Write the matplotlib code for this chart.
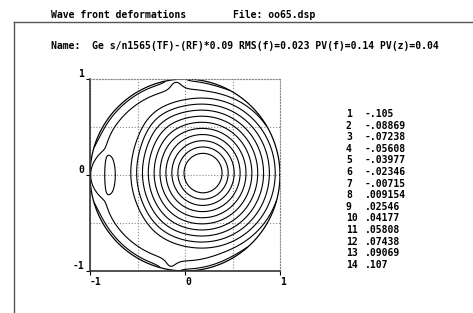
import numpy as np
import matplotlib
matplotlib.use("Agg")
import matplotlib.pyplot as plt
from matplotlib.lines import Line2D

# ---- data ----
title_left = "Wave front deformations"
title_right = "File: oo65.dsp"
name_line = "Name:  Ge s/n1565(TF)-(RF)*0.09 RMS(f)=0.023 PV(f)=0.14 PV(z)=0.04"
level_ids = [1, 2, 3, 4, 5, 6, 7, 8, 9, 10, 11, 12, 13, 14]
level_labels = ["-.105", "-.08869", "-.07238", "-.05608", "-.03977", "-.02346",
                "-.00715", ".009154", ".02546", ".04177", ".05808", ".07438",
                ".09069", ".107"]
levels = [-0.105, -0.08869, -0.07238, -0.05608, -0.03977, -0.02346,
          -0.00715, 0.009154, 0.02546, 0.04177, 0.05808, 0.07438,
          0.09069, 0.107]
x_ticks = [-1, 0, 1]
x_tick_labels = ["-1", "0", "1"]
y_ticks = [-1, 0, 1]
y_tick_labels = ["-1", "0", "1"]
grid_ticks = [-0.5, 0.5]

# surface model parameters
peak_x, peak_y = 0.19, 0.02
peak_value = 0.1646
cone_slope = 0.2676
peak_round = 0.08
y_squeeze = 0.95
# broad swellings of the main dome (x, y, height, sx, sy)
swell_x = [-0.35, -0.30]
swell_y = [0.65, -0.62]
swell_h = [0.011, 0.006]
swell_s = [0.22, 0.22]
rim_value = -0.050
rim_start = 0.80
rim_fall = 0.70
rim_soft = 0.003
# local features on the rim plateau (x, y, height, sx, sy)
feat_x = [-1.0, -0.8, -0.10, -0.16]
feat_y = [0.0, 0.0, 1.0, -1.0]
feat_h = [0.020, -0.016, 0.016, 0.016]
feat_sx = [0.10, 0.05, 0.07, 0.07]
feat_sy = [0.18, 0.16, 0.07, 0.07]

W, H = 473, 313
fig = plt.figure(figsize=(W / 100, H / 100), dpi=100)
FONT = dict(family="DejaVu Sans Mono", fontsize=7, fontweight="bold", color="black")

def fx(px):
    return px / W

def fy(py):
    return 1 - py / H

fig.text(fx(51), fy(15), title_left, va="center", ha="left", **FONT)
fig.text(fx(233), fy(15), title_right, va="center", ha="left", **FONT)
fig.text(fx(51), fy(46), name_line, va="center", ha="left", **FONT)
fig.add_artist(Line2D([fx(14), 1], [fy(22), fy(22)], color="#555555", lw=1))
fig.add_artist(Line2D([fx(14), fx(14)], [fy(22), 0], color="#555555", lw=1))

for i, (n, lab) in enumerate(zip(level_ids, level_labels)):
    yy = 114 + i * 11.6
    fig.text(fx(346), fy(yy), str(n), va="center", ha="left", **FONT)
    fig.text(fx(365), fy(yy), lab, va="center", ha="left", **FONT)

ax = fig.add_axes([fx(90), fy(271), (280 - 90) / W, (271 - 79) / H])
ax.set_xlim(-1, 1)
ax.set_ylim(-1, 1)

def gauss(X, Y, cx, cy, sx, sy):
    return np.exp(-((X - cx) ** 2 / (2 * sx ** 2) + (Y - cy) ** 2 / (2 * sy ** 2)))

g = np.linspace(-1, 1, 501)
X, Y = np.meshgrid(g, g)
R = np.hypot(X, Y)
D = np.sqrt((X - peak_x) ** 2 + y_squeeze * (Y - peak_y) ** 2 + peak_round ** 2)
Zc = peak_value - cone_slope * D
for cx, cy, h, s in zip(swell_x, swell_y, swell_h, swell_s):
    Zc = Zc + h * gauss(X, Y, cx, cy, s, s)
P = rim_value - rim_fall * np.clip(R - rim_start, 0, None) ** 2
for cx, cy, h, sx, sy in zip(feat_x, feat_y, feat_h, feat_sx, feat_sy):
    P = P + h * gauss(X, Y, cx, cy, sx, sy)
Z = P + rim_soft * np.logaddexp(0, (Zc - P) / rim_soft)
Z = np.ma.masked_where(R > 1.0, Z)
ax.contour(X, Y, Z, levels=levels, colors="black", linewidths=0.8,
           linestyles="solid")

t = np.linspace(0, 2 * np.pi, 400)
ax.plot(np.cos(t), np.sin(t), color="black", lw=0.9)

ax.set_xticks(x_ticks)
ax.set_xticklabels(x_tick_labels, ha="left", **FONT)
ax.set_yticks(y_ticks)
ax.set_yticklabels(y_tick_labels, va="bottom", **FONT)
ax.set_xticks(grid_ticks, minor=True)
ax.set_yticks(grid_ticks, minor=True)
ax.tick_params(which="minor", length=0)
ax.tick_params(axis="x", which="major", length=3, pad=1, direction="out")
ax.tick_params(axis="y", which="major", length=3, pad=1, direction="out")
ax.grid(True, which="both", linestyle=":", color="#888888", lw=0.8)
for s in ["top", "right"]:
    ax.spines[s].set_linestyle(":")
    ax.spines[s].set_color("#888888")
    ax.spines[s].set_linewidth(0.8)
for s in ["left", "bottom"]:
    ax.spines[s].set_linewidth(1.2)
    ax.spines[s].set_color("#333333")

fig.savefig("out.png", dpi=100)
